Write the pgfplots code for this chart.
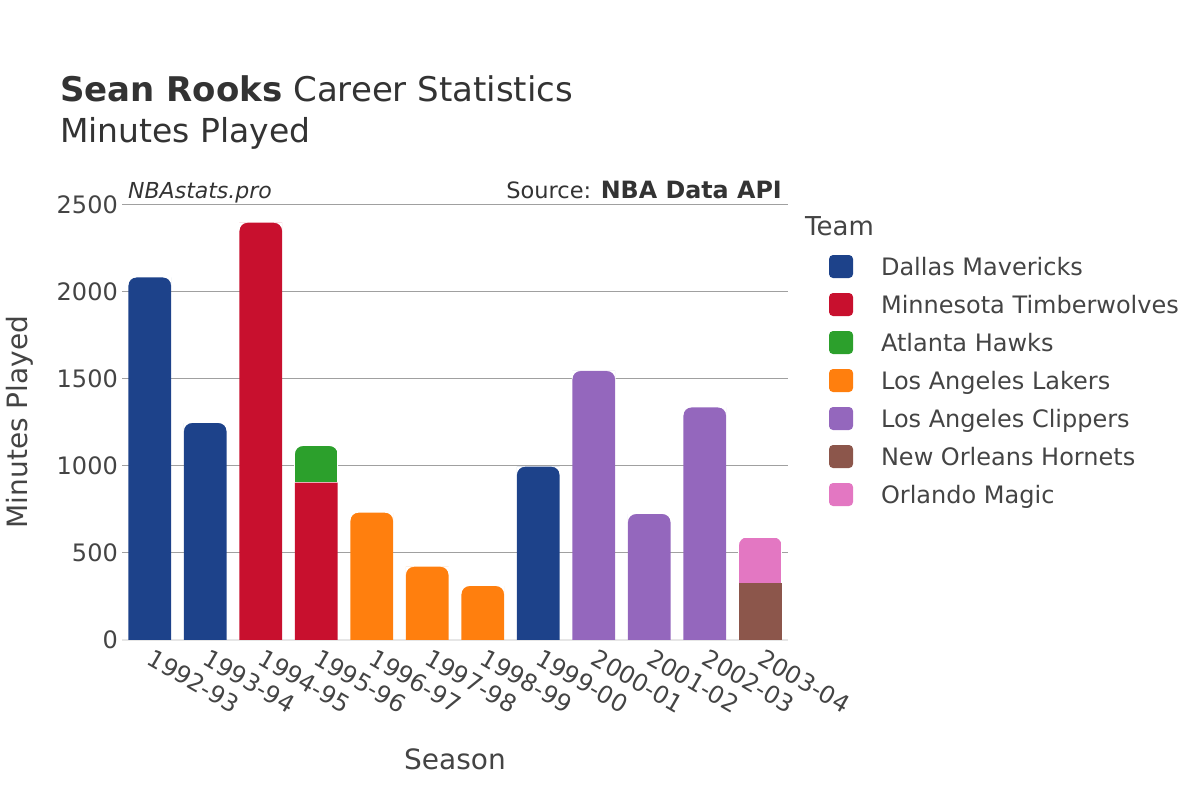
\documentclass[border=0pt]{standalone}
\usepackage{fontspec}
\setmainfont{DejaVu Sans}
\usepackage{pgfplots}
\usepackage{pgfplotstable}
\pgfplotsset{compat=1.18}
\definecolor{cdal}{HTML}{1D428A}
\definecolor{cmin}{HTML}{C8102E}
\definecolor{catl}{HTML}{2CA02C}
\definecolor{clal}{HTML}{FF7F0E}
\definecolor{clac}{HTML}{9467BD}
\definecolor{cnoh}{HTML}{8C564B}
\definecolor{corl}{HTML}{E377C2}
\definecolor{ctext}{HTML}{444444}
\definecolor{ctitle}{HTML}{333333}
\definecolor{cgrid}{HTML}{A0A0A0}
\definecolor{czero}{HTML}{E6E6E6}
\pgfdeclareplotmark{tcorners}{%
 \pgfpathmoveto{\pgfpoint{-21.85bp}{0.4bp}}%
 \pgfpathlineto{\pgfpoint{-13.35bp}{0.4bp}}%
 \pgfpathlineto{\pgfpoint{-13.35bp}{0bp}}%
 \pgfpatharc{90}{180}{8bp}%
 \pgfpathlineto{\pgfpoint{-21.85bp}{-8bp}}%
 \pgfpathclose
 \pgfpathmoveto{\pgfpoint{21.85bp}{0.4bp}}%
 \pgfpathlineto{\pgfpoint{13.35bp}{0.4bp}}%
 \pgfpathlineto{\pgfpoint{13.35bp}{0bp}}%
 \pgfpatharc{90}{0}{8bp}%
 \pgfpathlineto{\pgfpoint{21.85bp}{-8bp}}%
 \pgfpathclose
 \pgfusepathqfill}
\pgfplotsset{mylegend/.style={legend image code/.code={\fill[##1,draw=none,rounded corners=4bp] (0bp,-11.5bp) rectangle (24bp,11.5bp);}},
  geom/.style={at={(122bp,160bp)}, anchor=south west, width=666bp, height=435bp, scale only axis, xmin=-0.5, xmax=11.5, ymin=0, ymax=2500}}
\pgfplotstableread{
x dal minn atl lal lac noh orl
0 2084 0 0 0 0 0 0
1 1247 0 0 0 0 0 0
2 0 2398 0 0 0 0 0
3 0 904 211 0 0 0 0
4 0 0 0 732 0 0 0
5 0 0 0 421 0 0 0
6 0 0 0 310 0 0 0
7 996 0 0 0 0 0 0
8 0 0 0 0 1546 0 0
9 0 0 0 0 724 0 0
10 0 0 0 0 1337 0 0
11 0 0 0 0 0 326 264
}\data
\begin{document}
\begin{tikzpicture}[x=1bp,y=1bp]
\useasboundingbox (0,0) rectangle (1200,800);
\begin{axis}[
  geom,
  ybar stacked, bar width=42.7bp,
  xtick={0,1,2,3,4,5,6,7,8,9,10,11},
  xticklabels={1992-93,1993-94,1994-95,1995-96,1996-97,1997-98,1998-99,1999-00,2000-01,2001-02,2002-03,2003-04},
  ytick={500,1000,1500,2000,2500},
  extra y ticks={0}, extra y tick labels={0},
  extra y tick style={grid style={czero, line width=2.5bp}},
  ymajorgrids, grid style={cgrid, line width=1bp},
  axis line style={draw=none}, major tick length=0pt,
  tick style={draw=none},
  /pgf/number format/assume math mode=true,
  /pgf/number format/1000 sep={},
  yticklabel style={font=\fontsize{24bp}{24bp}\selectfont, text=ctext, inner sep=0pt, anchor=east, xshift=-4bp},
  xticklabel style={font=\fontsize{24bp}{24bp}\selectfont, text=ctext, inner sep=0pt, xshift=5bp, yshift=-8bp, rotate=-30, anchor=north west},
  scaled y ticks=false,
  legend style={at={(1.0616,0.885)}, anchor=north west, draw=none, fill=none, inner sep=0pt, outer sep=0pt, row sep=15bp, column sep=28bp, font=\fontsize{24bp}{24bp}\selectfont, text=ctext, nodes={inner sep=0pt, text height=17.5bp, text depth=0bp}},
  legend cell align=left,
]
\addplot[fill=cdal, draw=none, mylegend] table[x=x,y=dal]{\data};
\addlegendentry{Dallas Mavericks}
\addplot[fill=cmin, draw=none, mylegend] table[x=x,y=minn]{\data};
\addlegendentry{Minnesota Timberwolves}
\addplot[fill=catl, draw=white, line width=1bp, mylegend] table[x=x,y=atl]{\data};
\addlegendentry{Atlanta Hawks}
\addplot[fill=clal, draw=none, mylegend] table[x=x,y=lal]{\data};
\addlegendentry{Los Angeles Lakers}
\addplot[fill=clac, draw=none, mylegend] table[x=x,y=lac]{\data};
\addlegendentry{Los Angeles Clippers}
\addplot[fill=cnoh, draw=none, mylegend] table[x=x,y=noh]{\data};
\addlegendentry{New Orleans Hornets}
\addplot[fill=corl, draw=white, line width=1bp, mylegend] table[x=x,y=orl]{\data};
\addlegendentry{Orlando Magic}
\end{axis}
\begin{axis}[geom, hide axis]
\addplot[only marks, mark=tcorners, mark options={fill=white, draw=none}]
  table[x=x, y expr=\thisrow{dal}+\thisrow{minn}+\thisrow{atl}+\thisrow{lal}+\thisrow{lac}+\thisrow{noh}+\thisrow{orl}]{\data};
\end{axis}
\node[anchor=base west, inner sep=0pt, text=ctitle, font=\fontsize{34bp}{38bp}\selectfont] at (60,698.3) {\textbf{Sean Rooks} Career Statistics};
\node[anchor=base west, inner sep=0pt, text=ctitle, font=\fontsize{33bp}{38bp}\selectfont] at (60,657) {Minutes Played};
\node[anchor=base west, inner sep=0pt, text=ctitle, font=\fontsize{22bp}{26bp}\selectfont\itshape] at (128,601.7) {NBAstats.pro};
\node[anchor=base east, inner sep=0pt, text=ctitle, font=\fontsize{22.5bp}{26bp}\selectfont] at (782,601.7) {Source: {\fontsize{23.8bp}{26bp}\selectfont\textbf{NBA Data API}}};
\node[anchor=base west, inner sep=0pt, text=ctext, font=\fontsize{26bp}{30bp}\selectfont] at (805,564) {Team};
\node[rotate=90, anchor=base, inner sep=0pt, text=ctext, font=\fontsize{28bp}{32bp}\selectfont] at (27,378) {Minutes Played};
\node[anchor=base, inner sep=0pt, text=ctext, font=\fontsize{28bp}{32bp}\selectfont] at (455,30) {Season};
\end{tikzpicture}
\end{document}
